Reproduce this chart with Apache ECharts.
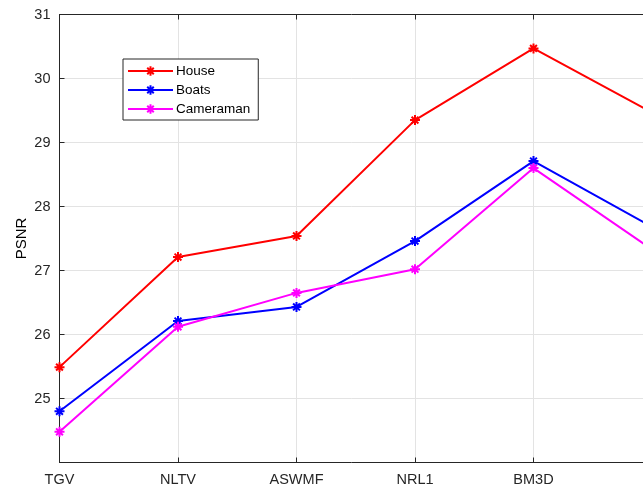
<!DOCTYPE html>
<html><head><meta charset="utf-8">
<script src="https://cdn.jsdelivr.net/npm/echarts@6/dist/echarts.min.js"></script>
<style>html,body{margin:0;padding:0;background:#fff}#c{width:643px;height:487px}</style>
</head><body><div id="c"></div>
<script>
const categories = ['TGV', 'NLTV', 'ASWMF', 'NRL1', 'BM3D', ''];
const house = [25.49, 27.21, 27.54, 29.35, 30.47, 29.47];
const boats = [24.80, 26.21, 26.43, 27.46, 28.71, 27.68];
const cameraman = [24.48, 26.12, 26.65, 27.02, 28.60, 27.33];
const yTicks = [25, 26, 27, 28, 29, 30, 31];

const star = 'path://M0 5L10 5M5 0L5 10M1.6 1.6L8.4 8.4M8.4 1.6L1.6 8.4';
const axisColor = '#262626';
const font = 'Liberation Sans, Arial, Helvetica, sans-serif';

function mk(name, data, color) {
  return {
    name, type: 'line', data,
    symbol: star, symbolSize: 10,
    showAllSymbol: true,
    lineStyle: { color, width: 2 },
    itemStyle: { color, borderColor: color, borderWidth: 2 },
    emphasis: { disabled: true },
    animation: false, clip: true
  };
}

const chart = echarts.init(document.getElementById('c'));
chart.setOption({
  animation: false,
  backgroundColor: '#fff',
  grid: { left: 59.5, top: 14.5, width: 592.5, height: 448, containLabel: false, outerBoundsMode: 'none' },
  legend: {
    left: 123, top: 59, orient: 'vertical',
    itemWidth: 45, itemHeight: 12, itemGap: 5,
    padding: [5, 8, 4, 4],
    borderColor: axisColor, borderWidth: 1, backgroundColor: '#fff',
    textStyle: { fontFamily: font, fontSize: 13.5, color: '#000', padding: [0, 0, 0, -2] },
    data: ['House', 'Boats', 'Cameraman']
  },
  xAxis: [{
    type: 'category', data: categories, boundaryGap: false,
    axisLine: { lineStyle: { color: axisColor, width: 1 } },
    axisTick: { inside: true, length: 5, lineStyle: { color: axisColor } },
    axisLabel: { fontFamily: font, fontSize: 14.5, color: axisColor, margin: 10 },
    splitLine: { show: true, lineStyle: { color: '#e3e3e3', width: 1 } }
  }, {
    type: 'category', data: categories, boundaryGap: false, position: 'top',
    axisLine: { lineStyle: { color: axisColor, width: 1 } },
    axisTick: { inside: true, length: 5, lineStyle: { color: axisColor } },
    axisLabel: { show: false }, splitLine: { show: false }
  }],
  yAxis: {
    type: 'value', min: 24, max: 31, interval: 1,
    name: 'PSNR', nameLocation: 'middle', nameGap: 30, nameMoveOverlap: false,
    nameTextStyle: { fontFamily: font, fontSize: 15, color: '#000' },
    axisLine: { show: true, lineStyle: { color: axisColor, width: 1 } },
    axisTick: { show: true, inside: true, length: 5, lineStyle: { color: axisColor } },
    axisLabel: {
      fontFamily: font, fontSize: 14.5, color: axisColor, margin: 9,
      formatter: v => yTicks.includes(v) ? String(v) : ''
    },
    splitLine: { show: true, lineStyle: { color: '#e3e3e3', width: 1 } }
  },
  series: [mk('House', house, '#ff0000'), mk('Boats', boats, '#0000ff'), mk('Cameraman', cameraman, '#ff00ff')]
});
</script></body></html>
